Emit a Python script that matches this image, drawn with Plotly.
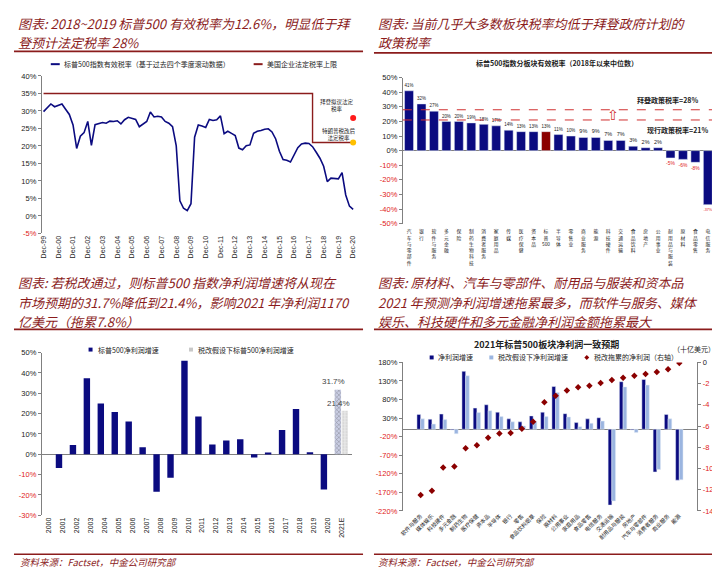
import plotly.graph_objects as go
import pandas as pd

W, H = 720, 570
def px(x): return x / W
def py(y): return 1 - y / H

NAVY = "#0b0b80"
LIGHT = "#9bb5e0"
MAROON = "#8b1c1c"
RED = "#e02020"
TITLE_C = "#8b1c1c"
CJK = "Noto Sans CJK SC"
LAT = "Liberation Sans, Noto Sans CJK SC"

# ---------------- Panel A data: S&P500 effective tax rate (quarterly) ----------------
tax_dates = pd.date_range("1999-12-31", periods=85, freq="QE")
sp_tax = [29.8, 31.0, 32.0, 31.2, 31.6, 32.0, 30.5, 29.0, 26.0, 19.3,
          22.8, 23.8, 27.0, 20.2, 26.1, 26.5, 26.7, 26.5, 27.1, 27.0,
          27.2, 26.3, 27.5, 28.2, 27.9, 27.6, 25.5, 26.2, 27.0, 29.7,
          28.3, 28.5, 28.3, 27.0, 26.5, 25.5, 20.0, 4.3, 2.2, 1.5,
          3.5, 22.5, 26.0, 25.7, 25.3, 27.6, 27.3, 27.5, 28.6, 23.5,
          24.2, 23.6, 23.0, 19.4, 18.9, 20.1, 20.3, 23.6, 24.2, 24.4,
          24.8, 24.9, 24.0, 22.0, 18.5, 16.1, 15.9, 15.4, 17.5, 19.5,
          20.6, 20.8, 20.7, 19.8, 18.2, 16.5, 14.2, 9.8, 10.8, 10.6,
          10.6, 12.4, 6.0, 2.8, 1.9]
stat_dates = ["1999-12-31", "2018-03-31", "2018-03-31", "2020-12-31"]
stat_rate = [35, 35, 21, 21]
biden_date = ["2020-12-31"]
biden_rate = [28]
trump_rate = [21]
a_tick_dates = pd.date_range("1999-12-31", periods=22, freq="YE")
a_tick_text = ["Dec-99", "Dec-00", "Dec-01", "Dec-02", "Dec-03", "Dec-04", "Dec-05",
               "Dec-06", "Dec-07", "Dec-08", "Dec-09", "Dec-10", "Dec-11", "Dec-12",
               "Dec-13", "Dec-14", "Dec-15", "Dec-16", "Dec-17", "Dec-18", "Dec-19", "Dec-20"]
a_yticks = [-5, 0, 5, 10, 15, 20, 25, 30, 35, 40]

# ---------------- Panel B data: sector effective tax rates ----------------
sector_b = ["汽车与零部件", "银行", "软件与服务", "多元金融", "保险", "制药生物科技",
            "消费者服务", "家庭用品", "传媒", "医疗保健", "资本品", "标普500",
            "半导体", "零售业", "商业服务", "能源", "科技硬件", "交通运输",
            "食品饮料", "房地产", "公用事业", "耐用品与服装", "原材料", "食品零售", "电信服务"]
tax_b = [41, 32, 27, 20, 20, 19, 18, 17, 14, 13, 13, 13, 11, 10, 9, 9, 7, 7,
         3, 2, 2, -5, -6, -8, -37]
b_yticks = [-50, -40, -30, -20, -10, 0, 10, 20, 30, 40, 50]
biden_policy = 28
current_policy = 21

# ---------------- Panel C data: S&P500 net profit growth ----------------
years_c = ["2000", "2001", "2002", "2003", "2004", "2005", "2006", "2007", "2008",
           "2009", "2010", "2011", "2012", "2013", "2014", "2015", "2016", "2017",
           "2018", "2019", "2020", "2021E"]
growth_c = [None, -6.8, 4.5, 37.3, 25.0, 20.8, 16.1, 3.4, -18.5, -11.6, 46.0, 18.6,
            4.8, 6.8, 7.4, -1.6, 0.6, 11.9, 22.2, 1.0, -17.4, 31.7]
growth_tax_c = [None] * 21 + [21.4]
c_yticks = [-30, -20, -10, 0, 10, 20, 30, 40, 50]

# ---------------- Panel D data: 2021 sector consensus ----------------
sector_d = ["软件与服务", "媒体娱乐", "科技硬件", "多元金融", "制药生物", "医疗保健",
            "资本品", "半导体", "银行", "零售", "食品饮料烟草", "保险", "原材料",
            "公用事业", "家庭用品", "食品零售", "电信服务", "交通运输", "耐用品与服装",
            "房地产", "汽车与零部件", "消费者服务", "商业服务", "能源"]
growth_d = [40, 27, 41, -2, 156, 57, 66, 46, 28, 20, 36, 46, 115, 42, 18, 28, 31,
            -204, 128, -2, 134, -115, 40, -137]
growth_tax_d = [28, 14, 26, -12, 144, 45, 50, 34, 20, 9, 21, 34, 99, 33, 7, 16, 22,
                -193, 114, -9, 119, -108, 28, -136]
drag_d = [-12.5, -12.1, -9.9, -9.8, -8.1, -7.8, -7.1, -6.7, -6.65, -6.25, -5.6,
          -3.75, -3.15, -2.65, -2.35, -2.2, -1.95, -1.65, -1.45, -1.25, -1.1, -0.9,
          -0.65, -0.05]
d_lticks = [-220, -170, -120, -70, -20, 30, 80, 130, 180]
d_rticks = [-14, -12, -10, -8, -6, -4, -2, 0]


def pct_ticks(vals, suffix="%"):
    out = []
    for v in vals:
        s = f"{v}{suffix}"
        out.append(f'<span style="color:{RED}">{s}</span>' if v < 0 else s)
    return out


fig = go.Figure()

# Panel A traces
fig.add_trace(go.Scatter(x=tax_dates, y=sp_tax, mode="lines", line=dict(color=NAVY, width=1.6),
                         xaxis="x", yaxis="y", showlegend=False, hoverinfo="skip"))
fig.add_trace(go.Scatter(x=stat_dates, y=stat_rate, mode="lines", line=dict(color=MAROON, width=1.4),
                         xaxis="x", yaxis="y", showlegend=False, hoverinfo="skip"))
fig.add_trace(go.Scatter(x=biden_date, y=biden_rate, mode="markers",
                         marker=dict(color="#ff1a1a", size=6), xaxis="x", yaxis="y", showlegend=False))
fig.add_trace(go.Scatter(x=biden_date, y=trump_rate, mode="markers",
                         marker=dict(color="#ffc000", size=6), xaxis="x", yaxis="y", showlegend=False))

# Panel B
b_colors = ["#8b0000" if s == "标普500" else NAVY for s in sector_b]
b_text_colors = [RED if v < 0 else "#222222" for v in tax_b]
fig.add_trace(go.Bar(x=sector_b, y=tax_b, marker_color=b_colors, width=0.72,
                     text=[f"{v}%" for v in tax_b], textposition="outside",
                     textfont=dict(size=5.5, color=b_text_colors, family=LAT),
                     cliponaxis=False, xaxis="x2", yaxis="y2", showlegend=False))

# Panel C
n = len(years_c)
c_colors = [NAVY] * (n - 1) + ["#c9cde3"]
c_shapes = [""] * (n - 1) + ["x"]
fig.add_trace(go.Bar(x=years_c, y=growth_c, width=0.46, offset=-0.5,
                     marker=dict(color=c_colors, line=dict(width=0),
                                 pattern=dict(shape=c_shapes, fgcolor="#7d86b8", size=3, solidity=0.3)),
                     xaxis="x3", yaxis="y3", showlegend=False))
fig.add_trace(go.Bar(x=years_c, y=growth_tax_c, width=0.46, offset=0.0,
                     marker=dict(color="#e8e8e8", line=dict(width=0),
                                 pattern=dict(shape=".", fgcolor="#b5b5b5", size=3, solidity=0.3)),
                     xaxis="x3", yaxis="y3", showlegend=False))

# Panel D
fig.add_trace(go.Bar(x=sector_d, y=growth_d, width=0.33, offset=-0.33, marker_color=NAVY,
                     xaxis="x4", yaxis="y4", showlegend=False))
fig.add_trace(go.Bar(x=sector_d, y=growth_tax_d, width=0.33, offset=0.0, marker_color=LIGHT,
                     xaxis="x4", yaxis="y4", showlegend=False))
fig.add_trace(go.Scatter(x=sector_d, y=drag_d, mode="markers",
                         marker=dict(symbol="diamond", size=5, color="#8b0000"),
                         xaxis="x4", yaxis="y6", showlegend=False))

tickfont = dict(size=7.5, family=LAT, color="#222222")
AX = "#808080"

layout = dict(
    width=W, height=H, margin=dict(l=0, r=0, t=0, b=0),
    paper_bgcolor="white", plot_bgcolor="white",
    font=dict(family=LAT, color="#222222"),
    # Panel A
    xaxis=dict(domain=[px(30), px(350)], anchor="y", type="date",
               range=["1999-11-19", "2021-06-20"], tickmode="array",
               tickvals=a_tick_dates, ticktext=a_tick_text, tickangle=-90,
               tickfont=dict(size=7, family=LAT), showline=False, showgrid=False,
               zeroline=False, ticks=""),
    xaxis5=dict(overlaying="x", anchor="free", position=py(207.3), domain=[px(30), px(350)],
                type="date", range=["1999-11-19", "2021-06-20"], tickmode="array",
                tickvals=a_tick_dates, showticklabels=False, ticks="outside", ticklen=3,
                tickcolor=AX, showline=True, linecolor=AX, showgrid=False, zeroline=False),
    yaxis=dict(domain=[py(225), py(65)], anchor="x", range=[-5, 40], tickmode="array",
               tickvals=a_yticks, ticktext=pct_ticks(a_yticks), tickfont=tickfont,
               showline=True, linecolor=AX, ticks="outside", ticklen=3, tickcolor=AX,
               showgrid=False, zeroline=False),
    # Panel B
    xaxis2=dict(domain=[px(393), px(706)], anchor="y2", tickmode="array", tickvals=sector_b,
                ticktext=["<br>".join(list(s)) if s != "标普500" else "标<br>普<br>500" for s in sector_b],
                tickangle=0, tickfont=dict(size=4.8, family=CJK), showline=False, showgrid=False,
                zeroline=False, ticks="", ticklabelstandoff=4),
    yaxis2=dict(domain=[py(215), py(66.7)], anchor="x2", range=[-50, 50], tickmode="array",
                tickvals=b_yticks, ticktext=pct_ticks(b_yticks), tickfont=tickfont,
                showline=True, linecolor=AX, ticks="outside", ticklen=3, tickcolor=AX,
                showgrid=False, zeroline=True, zerolinecolor=AX, zerolinewidth=1),
    # Panel C
    xaxis3=dict(domain=[px(30), px(342)], anchor="y3", tickangle=-90,
                tickfont=dict(size=7, family=LAT), showline=False, showgrid=False,
                zeroline=False, ticks=""),
    yaxis3=dict(domain=[py(511.3), py(346)], anchor="x3", range=[-30, 50], tickmode="array",
                tickvals=c_yticks, ticktext=pct_ticks(c_yticks), tickfont=tickfont,
                showline=True, linecolor=AX, ticks="outside", ticklen=3, tickcolor=AX,
                showgrid=False, zeroline=True, zerolinecolor=AX, zerolinewidth=1),
    # Panel D
    xaxis4=dict(domain=[px(393), px(689)], anchor="y4", tickangle=-45,
                tickfont=dict(size=5.5, family=CJK), showline=False, showgrid=False,
                zeroline=False, ticks=""),
    yaxis4=dict(domain=[py(507), py(356)], anchor="x4", range=[-220, 180], tickmode="array",
                tickvals=d_lticks, ticktext=pct_ticks(d_lticks), tickfont=tickfont,
                showline=True, linecolor=AX, ticks="outside", ticklen=3, tickcolor=AX,
                showgrid=False, zeroline=True, zerolinecolor=AX, zerolinewidth=1),
    yaxis6=dict(overlaying="y4", anchor="x4", side="right", range=[-14, 0], tickmode="array",
                tickvals=d_rticks, ticktext=pct_ticks(d_rticks, ""), tickfont=tickfont,
                showline=True, linecolor=AX, ticks="outside", ticklen=3, tickcolor=AX,
                showgrid=False, zeroline=False),
    barmode="overlay",
)
fig.update_layout(**layout)

ann = []
shapes = []

def text(x, y, s, size=7.5, color="#222222", xanchor="left", family=CJK, bold=False):
    if bold:
        s = f"<b>{s}</b>"
    ann.append(dict(x=px(x), y=py(y), xref="paper", yref="paper", text=s, showarrow=False,
                    xanchor=xanchor, yanchor="middle", font=dict(size=size, color=color, family=family)))

def title_line(x, y, s):
    text(x, y, f"<i>{s}</i>", size=13, color=TITLE_C)

def rule(x0, x1, y):
    shapes.append(dict(type="line", xref="paper", yref="paper", x0=px(x0), x1=px(x1),
                       y0=py(y), y1=py(y), line=dict(color=TITLE_C, width=1.6)))

# Titles
title_line(4, 12, "图表: 2018~2019 标普500 有效税率为12.6%，明显低于拜")
title_line(4, 31, "登预计法定税率 28%")
rule(2, 353, 40)
title_line(366, 12, "图表: 当前几乎大多数板块税率均低于拜登政府计划的")
title_line(366, 31, "政策税率")
rule(364, 716, 41.5)
title_line(4, 275, "图表: 若税改通过，则标普500 指数净利润增速将从现在")
title_line(4, 295, "市场预期的31.7%降低到21.4%，影响2021 年净利润1170")
title_line(4, 314.5, "亿美元（拖累7.8%）")
rule(2, 353, 322.5)
title_line(366, 275, "图表: 原材料、汽车与零部件、耐用品与服装和资本品")
title_line(366, 295, "2021 年预测净利润增速拖累最多，而软件与服务、媒体")
title_line(366, 314.5, "娱乐、科技硬件和多元金融净利润金额拖累最大")
rule(364, 716, 322.5)

# Footers
rule(2, 353, 551)
rule(364, 716, 551)
text(6, 559, "<i>资料来源：Factset，中金公司研究部</i>", size=9.5, color=TITLE_C)
text(366, 559, "<i>资料来源：Factset，中金公司研究部</i>", size=9.5, color=TITLE_C)

# Panel A legend + annotations
shapes.append(dict(type="line", xref="paper", yref="paper", x0=px(39), x1=px(48), y0=py(53), y1=py(53),
                   line=dict(color=NAVY, width=2)))
text(50, 53, "标普500指数有效税率（基于过去四个季度滚动数据）", size=7)
shapes.append(dict(type="line", xref="paper", yref="paper", x0=px(243), x1=px(252), y0=py(53), y1=py(53),
                   line=dict(color=MAROON, width=2)))
text(254, 53, "美国企业法定税率上限", size=7)
text(308, 95, "拜登拟议法定<br>税率", size=5.5)
text(310, 124, "特朗普税改后<br>法定税率", size=5.5)

# Panel B title + policy lines
text(548, 52, "标普500指数分板块有效税率（2018年以来中位数）", size=7, xanchor="center", bold=True)
for val in (biden_policy, current_policy):
    shapes.append(dict(type="line", xref="x2 domain", yref="y2", x0=0, x1=1, y0=val, y1=val,
                       line=dict(color="#d03030", width=1, dash="dash")))
ann.append(dict(x=1, y=biden_policy, xref="x2 domain", yref="y2", text="<b>拜登政策税率=28%</b>",
                showarrow=False, xanchor="right", yanchor="bottom", yshift=3, xshift=-14,
                font=dict(size=7, family=CJK, color="#222222")))
ann.append(dict(x=1, y=current_policy, xref="x2 domain", yref="y2", text="<b>现行政策税率=21%</b>",
                showarrow=False, xanchor="right", yanchor="top", yshift=-3, xshift=-4,
                font=dict(size=7, family=CJK, color="#222222")))
ann.append(dict(x=0.7, y=(biden_policy + current_policy) / 2, xref="x2 domain", yref="y2", text="⇧",
                showarrow=False, font=dict(size=14, family="DejaVu Sans", color="#d03030")))

# Panel C labels for 2021E + legend
ann.append(dict(x=years_c[-1], y=growth_c[-1], xref="x3", yref="y3", text="31.7%", showarrow=False,
                xanchor="center", yanchor="bottom", xshift=-8, yshift=2,
                font=dict(size=8, family=LAT, color="#444444")))
ann.append(dict(x=years_c[-1], y=growth_tax_c[-1], xref="x3", yref="y3", text="21.4%", showarrow=False,
                xanchor="center", yanchor="bottom", xshift=-3, yshift=1,
                font=dict(size=8, family=LAT, color="#444444")))
shapes.append(dict(type="rect", xref="paper", yref="paper", x0=px(77), x1=px(81), y0=py(345), y1=py(341),
                   fillcolor=NAVY, line=dict(width=0)))
text(84, 343, "标普500净利润增速", size=7)
shapes.append(dict(type="rect", xref="paper", yref="paper", x0=px(178), x1=px(182), y0=py(345), y1=py(341),
                   fillcolor="#c8c8c8", line=dict(width=0)))
text(185, 343, "税改假设下标普500净利润增速", size=7)

# Panel D title + legend
text(537, 338, "2021年标普500板块净利润一致预期", size=9, xanchor="center", bold=True)
text(686, 342, "（十亿美元）", size=7, xanchor="center")
shapes.append(dict(type="rect", xref="paper", yref="paper", x0=px(420), x1=px(424), y0=py(353), y1=py(349),
                   fillcolor=NAVY, line=dict(width=0)))
text(426, 351, "净利润增速", size=7)
shapes.append(dict(type="rect", xref="paper", yref="paper", x0=px(480), x1=px(484), y0=py(353), y1=py(349),
                   fillcolor=LIGHT, line=dict(width=0)))
text(487, 351, "税改假设下净利润增速", size=7)
shapes.append(dict(type="path", xref="paper", yref="paper",
                   path=f"M {px(578)},{py(348.5)} L {px(580.5)},{py(351)} L {px(578)},{py(353.5)} L {px(575.5)},{py(351)} Z",
                   fillcolor="#8b0000", line=dict(width=0)))
text(583, 351, "税改拖累的净利润（右轴）", size=7)

fig.update_layout(annotations=ann, shapes=shapes)
fig.write_html("out.html")
